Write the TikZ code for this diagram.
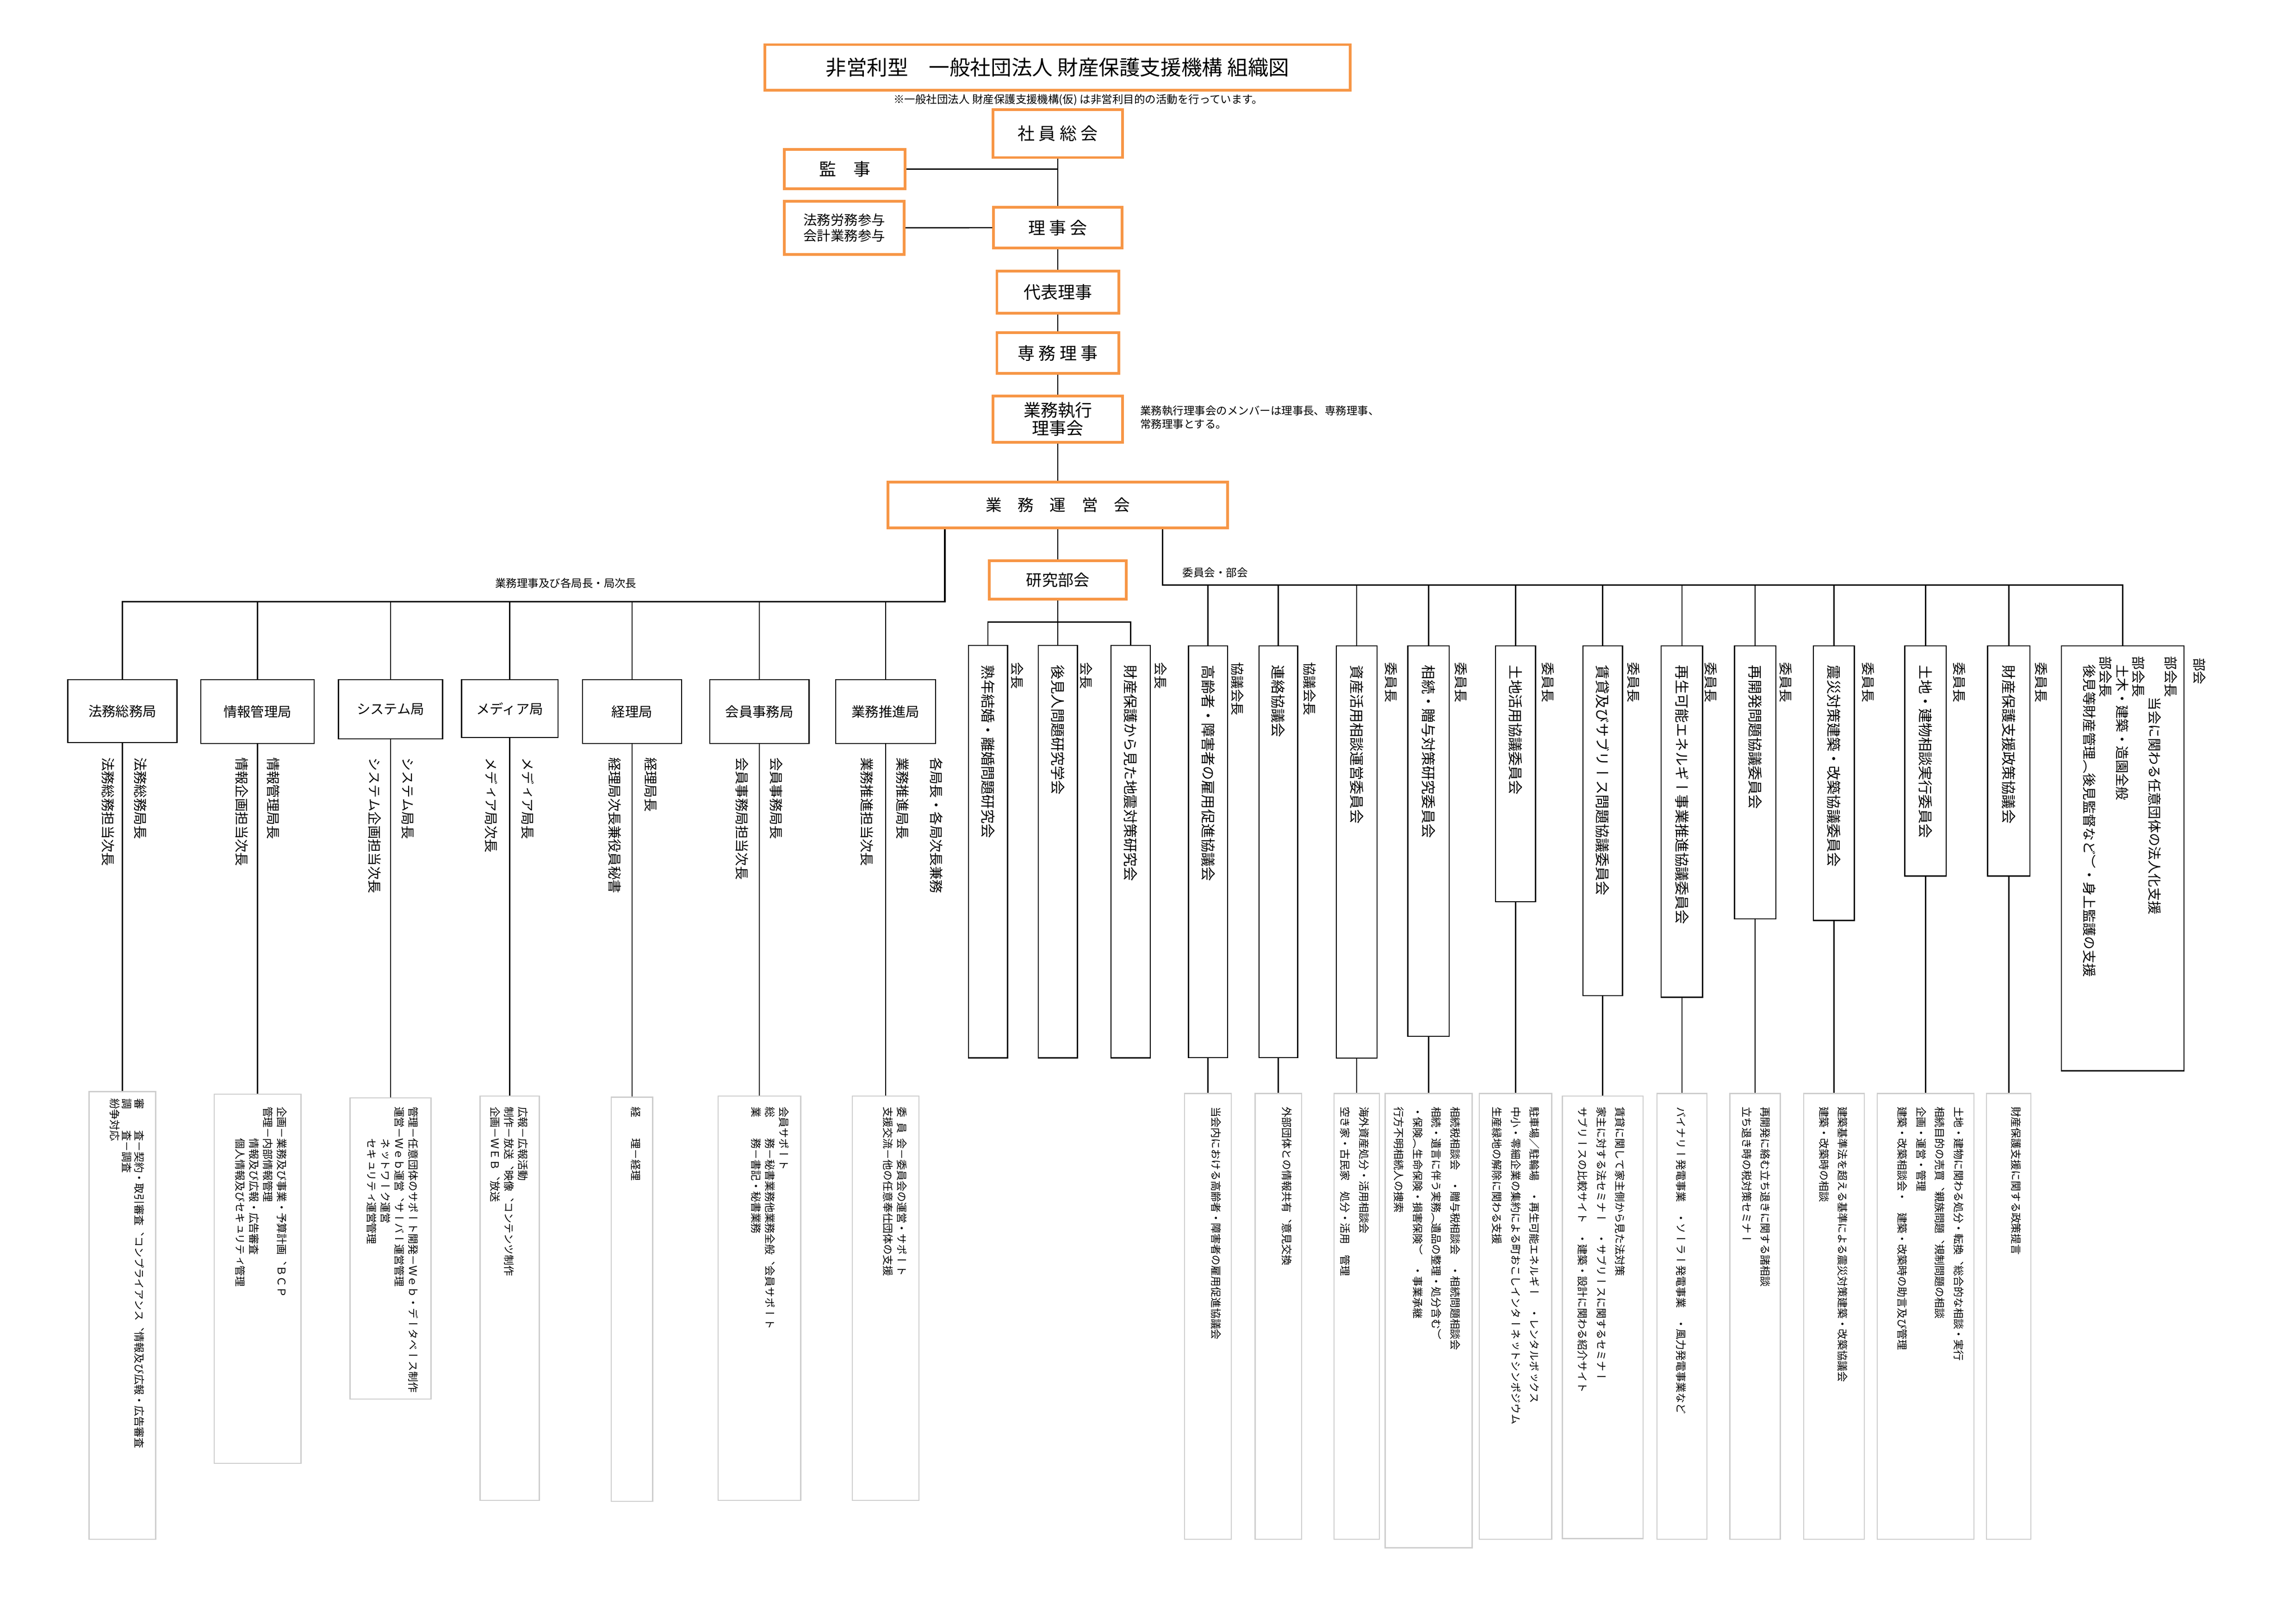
\documentclass[tikz,border=0pt]{standalone}
\usepackage{fontspec}
\setmainfont{Noto Sans CJK JP}
\newfontfamily\tatefont[Vertical=RotatedGlyphs]{Noto Sans CJK JP}
\usepackage{tikz}
\usetikzlibrary{calc}
\definecolor{boxorange}{RGB}{247,150,70}
\definecolor{boxgray}{RGB}{205,205,205}
\newlength\ou
\setlength\ou{0.18941mm}

\begin{document}
\begin{tikzpicture}[x={(0.18941mm,0)},y={(0,-0.18941mm)},
  obox/.style 2 args={draw=boxorange,line width=1pt,minimum width=#1*\ou,minimum height=#2*\ou,inner sep=0pt,align=center,font=\fontsize{6.3}{7.2}\selectfont},
  kbox/.style 2 args={draw,line width=0.4pt,minimum width=#1*\ou,minimum height=#2*\ou,inner sep=0pt,anchor=north,font=\fontsize{5}{6}\selectfont},
  gbox/.style 2 args={draw=boxgray,line width=0.4pt,minimum width=#1*\ou,minimum height=#2*\ou,inner sep=0pt,anchor=north},
  tate/.style={rotate=-90,anchor=west,inner sep=0pt,align=left},
  vname/.style={tate,font=\tatefont\fontsize{5.3}{6.5}\selectfont},
  vlabel/.style={tate,font=\tatefont\fontsize{5}{6}\selectfont},
  vrole/.style={tate,font=\tatefont\fontsize{4.9}{6}\selectfont},
  vsmall/.style={tate,font=\tatefont\fontsize{3.9}{#1}\selectfont},
  small/.style={inner sep=0pt,font=\fontsize{4}{4.9}\selectfont},
  conn/.style={line width=0.45pt},
  bus/.style={line width=0.6pt}]

\useasboundingbox (0,0) rectangle (1568,1108.5);

\node [obox={399.7}{31.2},font=\fontsize{7.6}{8}\selectfont] (title) at (722.2,46.1) {非営利型　一般社団法人 財産保護支援機構 組織図};
\node [small] (note) at (736.4,68.3) {※一般社団法人 財産保護支援機構(仮) は非営利目的の活動を行っています。};

\node [obox={88.6}{32.6}] (soukai) at (722.4,91.3) {社 員 総 会};
\node [obox={82.3}{26.6}] (kanji) at (576.9,115.5) {監　事};
\node [obox={81.7}{36.2},font=\fontsize{5}{5.9}\selectfont] (sanyo) at (576.6,155.6) {法務労務参与\\会計業務参与};
\node [obox={87.7}{28}] (rijikai) at (722.4,155.5) {理 事 会};
\node [obox={83.2}{28.6}] (daihyo) at (722.4,199.5) {代表理事};
\node [obox={83.2}{28}] (senmu) at (722.4,241.1) {専 務 理 事};
\node [obox={88.6}{31.6},font=\fontsize{6.3}{6.7}\selectfont] (shikko) at (722.4,286.3) {業務執行\\理事会};
\node [small,anchor=west,align=left] (shikkonote) at (778.3,285) {業務執行理事会のメンバーは理事長、専務理事、\\常務理事とする。};
\node [obox={232}{31.3},font=\fontsize{5.9}{7}\selectfont] (unei) at (722.4,345) {業　務　運　営　会};
\node [obox={93.4}{26.2},font=\fontsize{5.8}{7}\selectfont] (kenkyu) at (722.4,396) {研究部会};

\coordinate (lbus) at (645.2,411);
\coordinate (rbus) at (793.9,399.6);
\coordinate (rbar) at (722.4,424.8);
\node [small] (lbuslabel) at (386.4,398.3) {業務理事及び各局長・局次長};
\node [small] (rbuslabel) at (829.9,391) {委員会・部会};

\node [kbox={74.6}{42.9}] (homu) at (83.6,463.9) {法務総務局};
\node [kbox={77.4}{43.5}] (joho) at (175.9,463.9) {情報管理局};
\node [kbox={71.2}{40.4}] (system) at (266.7,463.9) {システム局};
\node [kbox={65.8}{39.5}] (media) at (348.1,463.9) {メディア局};
\node [kbox={67.6}{43.5}] (keiri) at (431.6,463.9) {経理局};
\node [kbox={67.8}{43.5}] (kaiin) at (518.6,463.9) {会員事務局};
\node [kbox={68.1}{43.5}] (suishin) at (604.8,463.9) {業務推進局};

\node [vlabel] (homuhead) at (96.1,517) {法務総務局長};
\node [vlabel] (homusub) at (73.9,517) {法務総務担当次長};
\node [vlabel] (johohead) at (186.8,517) {情報管理局長};
\node [vlabel] (johosub) at (165,517) {情報企画担当次長};
\node [vlabel] (systemhead) at (278.5,517) {システム局長};
\node [vlabel] (systemsub) at (255.9,517) {システム企画担当次長};
\node [vlabel] (mediahead) at (360.3,517) {メディア局長};
\node [vlabel] (mediasub) at (335.5,517) {メディア局次長};
\node [vlabel] (keirihead) at (444.6,517) {経理局長};
\node [vlabel] (keirisub) at (419.7,517) {経理局次長兼役員秘書};
\node [vlabel] (kaiinhead) at (530,517) {会員事務局長};
\node [vlabel] (kaiinsub) at (506.6,517) {会員事務局担当次長};
\node [vlabel] (suishinhead) at (616.4,517) {業務推進局長};
\node [vlabel] (suishinsub) at (592,517) {業務推進担当次長};
\node [vlabel] (suishinall) at (639.6,517) {各局長・各局次長兼務};

\node [gbox={45.5}{305.8}] (homub) at (83.6,745.2) {};
\node [gbox={59.3}{252.2}] (johob) at (175.9,746.9) {};
\node [gbox={55.3}{205.9}] (systemb) at (266.7,749.4) {};
\node [gbox={40.4}{276.2}] (mediab) at (348.1,748.3) {};
\node [gbox={28.2}{276}] (keirib) at (431.6,749) {};
\node [gbox={56.5}{276.2}] (kaiinb) at (518.6,748.3) {};
\node [gbox={45.5}{276.2}] (suishinb) at (604.8,748.3) {};

\node [vsmall=4.5] (homutext) at (86.7,750) {審　　査－契約・取引審査、コンプライアンス、情報及び広報・広告審査\\調　　査－調査\\紛争対応};
\node [vsmall=5.1] (johotext) at (178.4,755.5) {企画－業務及び事業・予算計画、ＢＣＰ\\管理－内部情報管理\\\hspace*{3em}情報及び広報・広告審査\\\hspace*{3em}個人情報及びセキュリティ管理};
\node [vsmall=5.1] (systemtext) at (268.1,755.5) {管理－任意団体のサポート開発－Ｗｅｂ・データベース制作\\運営－Ｗｅｂ運営、サーバー運営管理\\\hspace*{3em}ネットワーク運営\\\hspace*{3em}セキュリティ運営管理};
\node [vsmall=5.1] (mediatext) at (347.6,755.5) {広報－広報活動\\制作－放送、映像、コンテンツ制作\\企画－ＷＥＢ、放送};
\node [vsmall=5.1] (keiritext) at (434.1,755.5) {経　　理－経理};
\node [vsmall=5.1] (kaiintext) at (526,755.5) {会員サポート\\総　　務－秘書業務他業務全般、会員サポート\\業　　務－書記・秘書業務};
\node [vsmall=5.1] (suishintext) at (611.3,755.5) {委\hspace{0.5em}員\hspace{0.5em}会－委員会の運営・サポート\\支援交流－他の任意奉仕団体の支援};

\node [kbox={26.7}{281.7}] (r1) at (674.7,440.5) {};
\node [kbox={26.8}{281.7}] (r2) at (722.4,440.5) {};
\node [kbox={26.8}{281.7}] (r3) at (772.1,440.5) {};
\node [vname] (r1name) at (674.7,454) {熟年結婚・離婚問題研究会};
\node [vname] (r2name) at (722.4,454) {後見人問題研究学会};
\node [vname] (r3name) at (772.1,454) {財産保護から見た地震対策研究会};
\node [vrole] (r1role) at (694.6,452) {会長};
\node [vrole] (r2role) at (741.9,452) {会長};
\node [vrole] (r3role) at (792.5,452) {会長};

\node [kbox={26.8}{281.3}] (c1) at (825,440.7) {};
\node [kbox={26.4}{281.3}] (c2) at (873,440.7) {};
\node [kbox={28}{281.7}] (c3) at (926.5,440.7) {};
\node [kbox={28.4}{266.8}] (c4) at (975.6,440.7) {};
\node [kbox={27.3}{174.8}] (c5) at (1035,440.7) {};
\node [kbox={27}{238.9}] (c6) at (1094.5,440.7) {};
\node [kbox={28.3}{240.1}] (c7) at (1148.6,440.7) {};
\node [kbox={28.2}{186.4}] (c8) at (1198.6,440.7) {};
\node [kbox={28}{187.6}] (c9) at (1252.4,440.7) {};
\node [kbox={28.3}{157.3}] (c10) at (1315,440.7) {};
\node [kbox={28.9}{157.3}] (c11) at (1371.8,440.7) {};
\node [kbox={83.8}{290.3}] (bukai) at (1449.6,440.7) {};

\node [vname] (c1name) at (825,454) {高齢者・障害者の雇用促進協議会};
\node [vname] (c2name) at (873,454) {連絡協議会};
\node [vname] (c3name) at (926.5,454) {資産活用相談運営委員会};
\node [vname] (c4name) at (975.6,454) {相続・贈与対策研究委員会};
\node [vname] (c5name) at (1035,454) {土地活用協議委員会};
\node [vname] (c6name) at (1094.5,454) {賃貸及びサブリース問題協議委員会};
\node [vname] (c7name) at (1148.6,454) {再生可能エネルギー事業推進協議委員会};
\node [vname] (c8name) at (1198.6,454) {再開発問題協議委員会};
\node [vname] (c9name) at (1252.4,454) {震災対策建築・改築協議委員会};
\node [vname] (c10name) at (1315,454) {土地・建物相談実行委員会};
\node [vname] (c11name) at (1371.8,454) {財産保護支援政策協議会};
\node [vlabel] (bukainame) at (1454.8,448) {部会長\\\hspace*{3em}当会に関わる任意団体の法人化支援\\部会長\\\hspace*{0.6em}土木・建築・造園全般\\部会長\\\hspace*{0.6em}後見等財産管理（後見監督など）・身上監護の支援};

\node [vrole] (c1role) at (845,452) {協議会長};
\node [vrole] (c2role) at (894.5,452) {協議会長};
\node [vrole] (c3role) at (950,452) {委員長};
\node [vrole] (c4role) at (997.8,452) {委員長};
\node [vrole] (c5role) at (1057,452) {委員長};
\node [vrole] (c6role) at (1115.7,452) {委員長};
\node [vrole] (c7role) at (1168.4,452) {委員長};
\node [vrole] (c8role) at (1219.5,452) {委員長};
\node [vrole] (c9role) at (1275.7,452) {委員長};
\node [vrole] (c10role) at (1337.9,452) {委員長};
\node [vrole] (c11role) at (1394,452) {委員長};
\node [vrole] (bukairole) at (1502,449) {部会};

\node [gbox={31.9}{304.5}] (c1b) at (825,746.5) {};
\node [gbox={31.7}{304.5}] (c2b) at (873,746.5) {};
\node [gbox={31}{304.5}] (c3b) at (926.5,746.5) {};
\node [gbox={59.4}{310.3}] (c4b) at (975.6,746.5) {};
\node [gbox={49.4}{304.5}] (c5b) at (1035,746.5) {};
\node [gbox={55}{302.2}] (c6b) at (1094.5,748.3) {};
\node [gbox={34.1}{304.5}] (c7b) at (1148.6,746.5) {};
\node [gbox={34.4}{304.5}] (c8b) at (1198.6,746.5) {};
\node [gbox={41.4}{304.5}] (c9b) at (1252.4,746.5) {};
\node [gbox={66.1}{304.5}] (c10b) at (1315,746.5) {};
\node [gbox={30.4}{304.5}] (c11b) at (1371.8,746.5) {};

\node [vsmall=6.9] (c1text) at (830.6,755.5) {当会内における高齢者・障害者の雇用促進協議会};
\node [vsmall=6.9] (c2text) at (878.8,755.5) {外部団体との情報共有、意見交換};
\node [vsmall=6.9] (c3text) at (925.2,755.5) {海外資産処分・活用相談会\\空き家・古民家　処分・活用　管理};
\node [vsmall=6.9] (c4text) at (974.6,755.5) {相続税相談会　・贈与税相談会　・相続問題相談会\\相続・遺言に伴う実務（遺品の整理・処分含む）\\・保険（生命保険・損害保険）　・事業承継\\行方不明相続人の捜索};
\node [vsmall=6.9] (c5text) at (1035.2,755.5) {駐車場／駐輪場　・再生可能エネルギー　・レンタルボックス\\中小・零細企業の集約による町おこしインターネットシンポジウム\\生産緑地の解除に関わる支援};
\node [vsmall=6.9] (c6text) at (1093.7,755.5) {賃貸に関して家主側から見た法対策\\家主に対する法セミナー　・サブリースに関するセミナー\\サブリースの比較サイト　・建築・設計に関わる紹介サイト};
\node [vsmall=6.9] (c7text) at (1148,755.5) {バイナリー発電事業　・ソーラー発電事業　・風力発電事業など};
\node [vsmall=6.9] (c8text) at (1199.2,755.5) {再開発に絡む立ち退きに関する諸相談\\立ち退き時の税対策セミナー};
\node [vsmall=6.9] (c9text) at (1252,755.5) {建築基準法を超える基準による震災対策建築・改築協議会\\建築・改築時の相談};
\node [vsmall=6.9] (c10text) at (1318.4,755.5) {土地・建物に関わる処分・転換、総合的な相談・実行\\相続目的の売買、親族問題、規制問題の相談\\企画・運営・管理\\建築・改築相談会・　建築・改築時の助言及び管理};
\node [vsmall=6.9] (c11text) at (1376.8,755.5) {財産保護支援に関する政策提言};

\draw [conn] (soukai.south)-- (rijikai.north);
\draw [conn] (kanji.east)-- (kanji.east -| soukai.south);
\draw [conn] (sanyo.east)-- (rijikai.west);
\draw [conn] (rijikai.south)-- (daihyo.north);
\draw [conn] (daihyo.south)-- (senmu.north);
\draw [conn] (senmu.south)-- (shikko.north);
\draw [conn] (shikko.south)-- (unei.north);
\draw [conn] (unei.south)-- (kenkyu.north);
\draw [conn] (kenkyu.south)-- (r2.north);
\draw [conn] (r1.north) |- (rbar) -| (r3.north);

\draw [bus] (unei.south -| lbus)-- (lbus) -| (homu.north);
\draw [conn] (joho.north)-- (joho.north |- lbus);
\draw [conn] (system.north)-- (system.north |- lbus);
\draw [conn] (media.north)-- (media.north |- lbus);
\draw [conn] (keiri.north)-- (keiri.north |- lbus);
\draw [conn] (kaiin.north)-- (kaiin.north |- lbus);
\draw [conn] (suishin.north)-- (suishin.north |- lbus);

\draw [conn] (homu.south)-- (homub.north);
\draw [conn] (joho.south)-- (johob.north);
\draw [conn] (system.south)-- (systemb.north);
\draw [conn] (media.south)-- (mediab.north);
\draw [conn] (keiri.south)-- (keirib.north);
\draw [conn] (kaiin.south)-- (kaiinb.north);
\draw [conn] (suishin.south)-- (suishinb.north);

\draw [bus] (unei.south -| rbus)-- (rbus) -| (bukai.north);
\draw [conn] (c1.north)-- (c1.north |- rbus);
\draw [conn] (c2.north)-- (c2.north |- rbus);
\draw [conn] (c3.north)-- (c3.north |- rbus);
\draw [conn] (c4.north)-- (c4.north |- rbus);
\draw [conn] (c5.north)-- (c5.north |- rbus);
\draw [conn] (c6.north)-- (c6.north |- rbus);
\draw [conn] (c7.north)-- (c7.north |- rbus);
\draw [conn] (c8.north)-- (c8.north |- rbus);
\draw [conn] (c9.north)-- (c9.north |- rbus);
\draw [conn] (c10.north)-- (c10.north |- rbus);
\draw [conn] (c11.north)-- (c11.north |- rbus);

\draw [conn] (c1.south)-- (c1b.north);
\draw [conn] (c2.south)-- (c2b.north);
\draw [conn] (c3.south)-- (c3b.north);
\draw [conn] (c4.south)-- (c4b.north);
\draw [conn] (c5.south)-- (c5b.north);
\draw [conn] (c6.south)-- (c6b.north);
\draw [conn] (c7.south)-- (c7b.north);
\draw [conn] (c8.south)-- (c8b.north);
\draw [conn] (c9.south)-- (c9b.north);
\draw [conn] (c10.south)-- (c10b.north);
\draw [conn] (c11.south)-- (c11b.north);

\end{tikzpicture}
\end{document}
